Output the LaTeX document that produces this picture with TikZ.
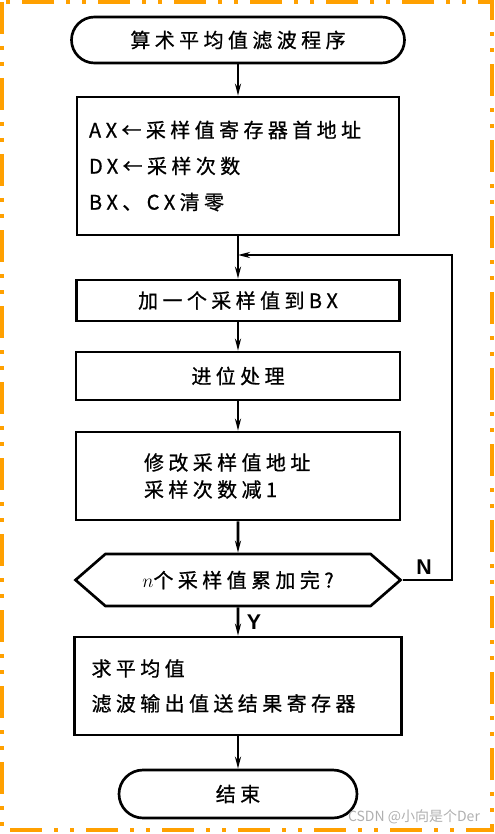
\documentclass[tikz,border=0pt]{standalone}
\usepackage{fontspec}
\newfontfamily\cjk{Noto Sans CJK SC}[LetterSpace=22,FakeBold=0.8]
\newfontfamily\cjkmark{Noto Sans CJK SC}
\newfontfamily\ynfont{Liberation Sans}
\usetikzlibrary{arrows.meta,shapes.symbols}

\definecolor{frameorange}{RGB}{255,160,0}
\definecolor{markgray}{RGB}{175,175,175}

\tikzset{every picture/.style={line width=0.75pt}}
\tikzset{
  flowbox/.style={draw,line width=2pt,inner ysep=0pt,font=\cjk\fontsize{15}{18}\selectfont},
  termbox/.style={flowbox,rounded corners=#1},
  flowline/.style={line width=2pt,-{Stealth[length=9pt,width=4.5pt]}},
  ynlabel/.style={font=\ynfont\fontsize{16}{18}\selectfont\bfseries}
}

\begin{document}
\begin{tikzpicture}[x=0.75pt,y=0.75pt,yscale=-1,xscale=1]
	\useasboundingbox (0,0) rectangle (494,834);

	%Shape: Frame [id:frame]
	\draw [frameorange,line width=3pt,dash pattern={on 24pt off 9pt on 3pt off 9pt on 3pt off 9pt}] (2,2) rectangle (492,830) ;

	%Shape: Terminator
	\node [termbox=17.25pt,minimum width=249.75pt,minimum height=34.5pt] (start) at (238,40) {算术平均值滤波程序};
	%Shape: Rectangle
	\node [flowbox,minimum width=241.5pt,minimum height=103.5pt,inner xsep=9pt,text width=223.5pt,align=left,font=\cjk\fontsize{15}{27}\selectfont] (init) at (238,166) {AX←采样值寄存器首地址\\DX←采样次数\\BX、CX清零};
	%Shape: Rectangle
	\node [flowbox,minimum width=242.25pt,minimum height=30.75pt] (addbx) at (238,300.5) {加一个采样值到BX};
	%Shape: Rectangle
	\node [flowbox,minimum width=243pt,minimum height=36pt] (carry) at (238,376) {进位处理};
	%Shape: Rectangle
	\node [flowbox,minimum width=243pt,minimum height=66pt,inner xsep=51pt,text width=141pt,align=left,font=\cjk\fontsize{15}{20.25}\selectfont] (modify) at (238,476) {修改采样值地址\\采样次数减1};
	%Shape: Hexagon
	\node [flowbox,signal,signal to=west and east,signal pointer angle=82,minimum width=243.75pt,minimum height=39pt] (done) at (238,580) {$n$个采样值累加完?};
	%Shape: Rectangle
	\node [flowbox,minimum width=245.25pt,minimum height=73.5pt,inner xsep=12.75pt,text width=219.75pt,align=left,font=\cjk\fontsize{15}{26.25}\selectfont] (average) at (238,686) {求平均值\\滤波输出值送结果寄存器};
	%Shape: Terminator
	\node [termbox=18pt,minimum width=178.5pt,minimum height=36pt] (finish) at (238,794) {结束};

	\coordinate (join) at (238,255);
	\coordinate (loopR) at (452,255);

	%Straight Lines
	\draw [flowline] (start) -- (init);
	\draw [line width=2pt] (init) -- (join);
	\draw [flowline] (join) -- (addbx);
	\draw [flowline] (addbx) -- (carry);
	\draw [flowline] (carry) -- (modify);
	\draw [flowline] (modify) -- (done);
	\draw [flowline] (done) -- (average);
	\draw [flowline] (average) -- (finish);
	\draw [flowline] (done.east) -| (loopR) -- (join);

	% Text Node
	\node [ynlabel] (no) at (424,567) {N};
	% Text Node
	\node [ynlabel] (yes) at (254,622) {Y};
	% Text Node
	\node [markgray,font=\cjkmark\fontsize{10.5}{12}\selectfont] (mark) at (414,817) {CSDN @小向是个Der};

\end{tikzpicture}
\end{document}
